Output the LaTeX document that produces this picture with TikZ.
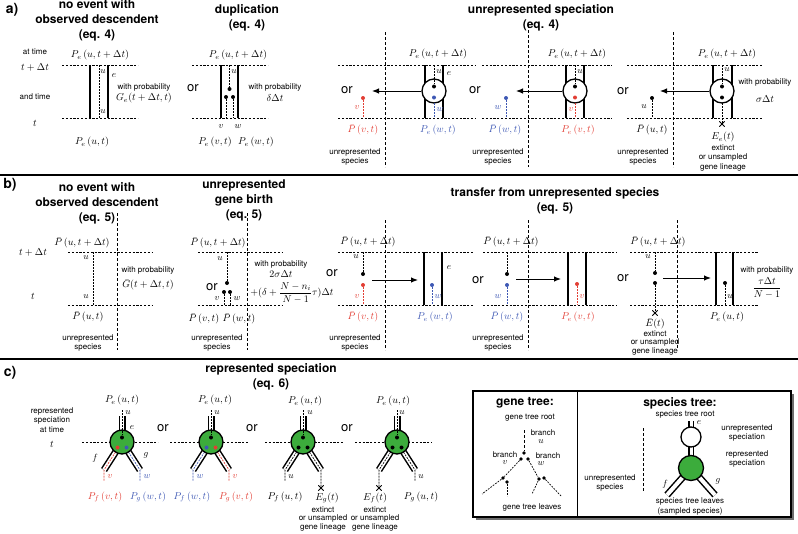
\documentclass[tikz,border=0pt]{standalone}
\usepackage{fontspec}
\usetikzlibrary{arrows.meta,shapes.misc}
\newfontfamily\hv{TeX Gyre Heros}
\definecolor{gred}{RGB}{226,62,52}
\definecolor{gblue}{RGB}{62,88,180}
\definecolor{ggreen}{RGB}{60,172,60}
\definecolor{shadowgray}{RGB}{110,110,110}
\begin{document}
\begin{tikzpicture}[x=1pt,y=-1pt,
  sp/.style={line width=2pt},
  gl/.style={line width=0.7pt,dash pattern=on 1.8pt off 1.2pt},
  tl/.style={line width=0.5pt,dash pattern=on 2.2pt off 1.6pt},
  vl/.style={line width=0.7pt,dash pattern=on 3pt off 2pt},
  gdot/.style={circle,fill,inner sep=0pt,minimum size=4pt},
  ttl/.style={font=\hv\bfseries\fontsize{12}{15}\selectfont,align=center,inner sep=0.5pt},
  pnl/.style={font=\hv\bfseries\fontsize{14}{16}\selectfont,inner sep=0.5pt},
  sm/.style={font=\hv\fontsize{8}{9.5}\selectfont,align=center,inner sep=0.5pt},
  ortx/.style={font=\hv\fontsize{13}{15}\selectfont,inner sep=0.5pt},
  mth/.style={font=\fontsize{10}{12}\selectfont,inner sep=0.5pt},
  lab/.style={font=\fontsize{9}{10}\selectfont,inner sep=0.3pt},
  arr/.style={line width=1pt,-{Latex[length=7pt,width=5.5pt]}},
  spc/.style={circle,draw,line width=1.3pt,fill=white,minimum size=24pt,inner sep=0pt},
  gsp/.style={circle,draw,line width=1.3pt,fill=ggreen,minimum size=24pt,inner sep=0pt},
  dbl/.style={double=white,double distance=4pt,line width=1.5pt},
  xmark/.style={cross out,draw,line width=0.8pt,minimum size=4.5pt,inner sep=0pt},
  sep/.style={line width=2.5pt},
]
\useasboundingbox (0,0) rectangle (798,533);

% =================== panel a ===================
\node[pnl] (la) at (12,10) {a)};
\node[ttl] (ta1) at (97,20.5) {no event with\\observed descendent\\(eq. 4)};
\node[sm] (at1) at (35,52) {at time};
\node[mth] (at2) at (35,67) {$t+\Delta t$};
\node[sm] (at3) at (35,97) {and time};
\node[mth] (at4) at (35,123) {$t$};
\node[mth] (a1top) at (100,55) {$P_e\,(u,t+\Delta t)$};
\draw[tl] (62,65) -- (138,65);
\draw[tl] (62,118) -- (138,118);
\draw[sp] (90,65) -- (90,118);
\draw[sp] (108,65) -- (108,118);
\draw[gl] (99,65) -- (99,118);
\node[lab] (a1u1) at (103,72) {$u$};
\node[lab] (a1u2) at (103,112) {$u$};
\node[lab] (a1e) at (114,76) {$e$};
\node[sm] (a1wp) at (144,87) {with probability};
\node[mth] (a1G) at (144,98) {$G_e(t+\Delta t,t)$};
\node[mth] (a1bot) at (92,142) {$P_e\,(u,t)$};

% duplication
\node[ttl] (ta2) at (247,17.5) {duplication\\(eq. 4)};
\node[ortx] (aor1) at (193,88) {or};
\node[mth] (a2top) at (238,55) {$P_e\,(u,t+\Delta t)$};
\draw[tl] (192,65) -- (268,65);
\draw[tl] (192,118) -- (268,118);
\draw[sp] (221,65) -- (221,118);
\draw[sp] (238,65) -- (238,118);
\node[gdot] (dA) at (229.5,89) {};
\node[gdot] (dB) at (226,97) {};
\node[gdot] (dC) at (233,97) {};
\coordinate (dAt) at (229.5,65);
\coordinate (dBb) at (226,118);
\coordinate (dCb) at (233,118);
\draw[gl] (dAt) -- (dA);
\draw[gl] (dB) -- (dBb);
\draw[gl] (dC) -- (dCb);
\node[lab] (a2u) at (234,72) {$u$};
\node[lab] (a2v) at (221,127) {$v$};
\node[lab] (a2w) at (238,127) {$w$};
\node[sm] (a2wp) at (275,87) {with probability};
\node[mth] (a2d) at (275,98) {$\delta\Delta t$};
\node[mth] (a2b1) at (215,142) {$P_e\,(v,t)$};
\node[mth] (a2b2) at (256,142) {$P_e\,(w,t)$};

% unrepresented speciation
\node[ttl] (ta3) at (541,17.5) {unrepresented speciation\\(eq. 4)};
% sub 1
\node[ortx] (aor2) at (347,90) {or};
\draw[vl] (385,32) -- (385,167);
\draw[tl] (338,65) -- (475,65);
\draw[tl] (338,118) -- (475,118);
\node[mth] (s1top) at (438,54) {$P_e\,(u,t+\Delta t)$};
\draw[sp] (425,65) -- (425,118);
\draw[sp] (443,65) -- (443,118);
\node[spc] (c1) at (434,91) {};
\node[gdot] (c1a) at (434,86.5) {};
\node[gdot,gblue] (c1b) at (434,97.5) {};
\draw[gl] (434,65) -- (c1a);
\draw[gl,gblue] (434,103) -- (434,118);
\node[lab] (s1u) at (439,72) {$u$};
\node[lab] (s1e) at (449,74) {$e$};
\node[lab,gblue] (s1w) at (440,110) {$w$};
\node[mth,gblue] (s1b) at (438,130) {$P_e\,(w,t)$};
\coordinate (a1tip) at (372,91);
\draw[arr] (c1) -- (a1tip);
\node[gdot,gred] (r1) at (363,98) {};
\coordinate (r1b) at (363,118);
\draw[gl,gred] (r1) -- (r1b);
\node[lab,gred] (r1v) at (357,108) {$v$};
\node[mth,gred] (r1P) at (363,130) {$\bar P\,(v,t)$};
\node[sm] (r1s) at (355,157) {unrepresented\\species};
% sub 2
\node[ortx] (aor3) at (475,90) {or};
\draw[vl] (528,25) -- (528,167);
\draw[tl] (482,65) -- (612,65);
\draw[tl] (482,118) -- (612,118);
\node[mth] (s2top) at (577,54) {$P_e\,(u,t+\Delta t)$};
\draw[sp] (566,65) -- (566,118);
\draw[sp] (584,65) -- (584,118);
\node[spc] (c2) at (575,91) {};
\node[gdot] (c2a) at (575,86.5) {};
\node[gdot,gred] (c2b) at (575,97.5) {};
\draw[gl] (575,65) -- (c2a);
\draw[gl,gred] (575,103) -- (575,118);
\node[lab] (s2u) at (580,72) {$u$};
\node[lab,gred] (s2v) at (571,110) {$v$};
\node[mth,gred] (s2b) at (578,130) {$P_e\,(v,t)$};
\coordinate (a2tip) at (516,91);
\draw[arr] (c2) -- (a2tip);
\node[gdot,gblue] (b2) at (506,98) {};
\coordinate (b2b) at (506,118);
\draw[gl,gblue] (b2) -- (b2b);
\node[lab,gblue] (b2w) at (498,108) {$w$};
\node[mth,gblue] (b2P) at (505,130) {$\bar P\,(w,t)$};
\node[sm] (b2s) at (498,157) {unrepresented\\species};
% sub 3
\node[ortx] (aor4) at (623,91) {or};
\draw[vl] (673,32) -- (673,167);
\draw[tl] (627,65) -- (762,65);
\draw[tl] (627,118) -- (762,118);
\node[mth] (s3top) at (727,54) {$P_e\,(u,t+\Delta t)$};
\draw[sp] (713,65) -- (713,118);
\draw[sp] (732,65) -- (732,118);
\draw[gl] (722,103) -- (722,124);
\node[spc] (c3) at (722,91) {};
\node[gdot] (c3a) at (722,86.5) {};
\node[gdot] (c3b) at (722,97.5) {};
\draw[gl] (722,65) -- (c3a);
\node[xmark] (x1) at (722,124) {};
\node[lab] (s3u) at (727,70) {$u$};
\node[sm] (s3wp) at (765,82) {with probability};
\node[mth] (s3sg) at (765,99) {$\sigma\Delta t$};
\node[mth] (s3E) at (723,137) {$E_e(t)$};
\node[sm] (s3x) at (723,158) {extinct\\or unsampled\\gene lineage};
\coordinate (a3tip) at (660,91);
\draw[arr] (c3) -- (a3tip);
\node[gdot] (k3) at (652,98) {};
\coordinate (k3b) at (652,118);
\draw[gl] (k3) -- (k3b);
\node[lab] (k3u) at (644,107) {$u$};
\node[mth] (k3P) at (652,130) {$\bar P\,(u,t)$};
\node[sm] (k3s) at (643,157) {unrepresented\\species};

% separators
\draw[sep] (0,175) -- (798,175);
\draw[sep] (0,359) -- (798,359);

% =================== panel b ===================
\node[pnl] (lb) at (10,185) {b)};
\node[ttl] (tb1) at (97,203.5) {no event with\\observed descendent\\(eq. 5)};
\node[mth] (bt1) at (33,252) {$t+\Delta t$};
\node[mth] (bt2) at (33,296) {$t$};
\node[mth] (b1top) at (82,243) {$\bar P\,(u,t+\Delta t)$};
\draw[tl] (68,252) -- (152,252);
\draw[tl] (68,305) -- (152,305);
\draw[gl] (93,252) -- (93,305);
\draw[vl] (117,213) -- (117,350);
\node[lab] (b1u1) at (86,258) {$u$};
\node[lab] (b1u2) at (86,297) {$u$};
\node[sm] (b1wp) at (148,270) {with probability};
\node[mth] (b1G) at (148,285) {$\bar G(t+\Delta t,t)$};
\node[mth] (b1bot) at (88,317) {$\bar P\,(u,t)$};
\node[sm] (b1s) at (88,343) {unrepresented\\species};

% gene birth
\node[ttl] (tb2) at (244,200.5) {unrepresented\\gene birth\\(eq. 5)};
\node[ortx] (bor1) at (212,287) {or};
\node[mth] (b2top) at (218,243) {$\bar P\,(u,t+\Delta t)$};
\draw[tl] (198,252) -- (282,252);
\draw[tl] (198,305) -- (282,305);
\draw[vl] (247,213) -- (247,350);
\node[gdot] (gb1) at (227,283) {};
\node[gdot] (gb2) at (224,292) {};
\node[gdot] (gb3) at (230,292) {};
\coordinate (gb1t) at (227,252);
\coordinate (gb2b) at (224,305);
\coordinate (gb3b) at (230,305);
\draw[gl] (gb1t) -- (gb1);
\draw[gl] (gb2) -- (gb2b);
\draw[gl] (gb3) -- (gb3b);
\node[lab] (gbu) at (220,259) {$u$};
\node[lab] (gbv) at (217,299) {$v$};
\node[lab] (gbw) at (237,299) {$w$};
\node[sm] (gbwp) at (281,264) {with probability};
\node[mth] (gbs) at (281,274) {$2\sigma\Delta t$};
\node[mth] (gbf) at (292,293) {$\displaystyle +(\delta+\frac{N-n_i}{N-1}\tau)\Delta t$};
\node[mth] (gbP1) at (204,319) {$\bar P\,(v,t)$};
\node[mth] (gbP2) at (239,319) {$\bar P\,(w,t)$};
\node[sm] (gbs2) at (217,343) {unrepresented\\species};

% transfer
\node[ttl] (tb3) at (555,200.5) {transfer from unrepresented species\\(eq. 5)};
% sub 1
\node[ortx] (bor2) at (332,273) {or};
\node[mth] (t1top) at (368,242) {$\bar P\,(u,t+\Delta t)$};
\draw[tl] (338,252) -- (473,252);
\draw[tl] (338,305) -- (473,305);
\draw[vl] (385,220) -- (385,350);
\node[gdot] (t1a) at (363,274) {};
\node[gdot,gred] (t1b) at (363,285) {};
\coordinate (t1at) at (363,252);
\coordinate (t1bb) at (363,305);
\draw[gl] (t1at) -- (t1a);
\draw[gl,gred] (t1b) -- (t1bb);
\node[lab] (t1u) at (356,257) {$u$};
\node[lab,gred] (t1v) at (357,297) {$v$};
\coordinate (t1s) at (372,280);
\coordinate (t1e) at (418,280);
\draw[arr] (t1s) -- (t1e);
\draw[sp] (424,252) -- (424,305);
\draw[sp] (442,252) -- (442,305);
\node[lab] (t1ee) at (449,268) {$e$};
\node[gdot,gblue] (t1c) at (432,285) {};
\coordinate (t1cb) at (432,305);
\draw[gl,gblue] (t1c) -- (t1cb);
\node[lab,gblue] (t1w) at (438,297) {$w$};
\node[mth,gred] (t1P1) at (363,317) {$\bar P\,(v,t)$};
\node[mth,gblue] (t1P2) at (435,317) {$P_e\,(w,t)$};
\node[sm] (t1sp) at (355,343) {unrepresented\\species};
% sub 2
\node[ortx] (bor3) at (478,280) {or};
\node[mth] (t2top) at (511,242) {$\bar P\,(u,t+\Delta t)$};
\draw[tl] (483,252) -- (617,252);
\draw[tl] (483,305) -- (617,305);
\draw[vl] (528,220) -- (528,350);
\node[gdot] (t2a) at (507,274) {};
\node[gdot,gblue] (t2b) at (507,285) {};
\coordinate (t2at) at (507,252);
\coordinate (t2bb) at (507,305);
\draw[gl] (t2at) -- (t2a);
\draw[gl,gblue] (t2b) -- (t2bb);
\node[lab,gblue] (t2w) at (498,297) {$w$};
\coordinate (t2s) at (516,279);
\coordinate (t2e) at (561,279);
\draw[arr] (t2s) -- (t2e);
\draw[sp] (568,252) -- (568,305);
\draw[sp] (586,252) -- (586,305);
\node[gdot,gred] (t2c) at (577,284) {};
\coordinate (t2cb) at (577,305);
\draw[gl,gred] (t2c) -- (t2cb);
\node[lab,gred] (t2v) at (582,297) {$v$};
\node[mth,gblue] (t2P1) at (507,317) {$\bar P\,(w,t)$};
\node[mth,gred] (t2P2) at (578,317) {$P_e\,(v,t)$};
\node[sm] (t2sp) at (498,343) {unrepresented\\species};
% sub 3
\node[ortx] (bor4) at (623,278) {or};
\node[mth] (t3top) at (658,242) {$\bar P\,(u,t+\Delta t)$};
\draw[tl] (630,252) -- (758,252);
\draw[tl] (630,305) -- (758,305);
\draw[vl] (677,220) -- (677,350);
\node[gdot] (t3a) at (655,273) {};
\node[gdot] (t3b) at (655,283) {};
\coordinate (t3at) at (655,252);
\node[xmark] (x2) at (655,313) {};
\draw[gl] (t3at) -- (t3a);
\draw[gl] (t3b) -- (x2.center);
\node[lab] (t3u) at (648,257) {$u$};
\coordinate (t3s) at (663,278);
\coordinate (t3e) at (711,278);
\draw[arr] (t3s) -- (t3e);
\draw[sp] (716,252) -- (716,305);
\draw[sp] (733,252) -- (733,305);
\node[gdot] (t3c) at (725,283) {};
\coordinate (t3cb) at (725,305);
\draw[gl] (t3c) -- (t3cb);
\node[lab] (t3uu) at (730,297) {$u$};
\node[sm] (t3wp) at (767,270) {with probability};
\node[mth] (t3fr) at (767,288) {$\displaystyle\frac{\tau\Delta t}{N-1}$};
\node[mth] (t3P) at (727,317) {$P_e\,(u,t)$};
\node[mth] (t3E) at (655,324) {$\bar E(t)$};
\node[sm,font=\hv\fontsize{8}{8.8}\selectfont] (t3x) at (655,343) {extinct\\or unsampled\\gene lineage};

% =================== panel c ===================
\node[pnl] (lc) at (10,373) {c)};
\node[ttl] (tc) at (271,376.5) {represented speciation\\(eq. 6)};
\node[sm] (ct1) at (52,420) {represented\\speciation\\at time};
\node[mth] (ct2) at (52,444) {$t$};

% sub 1
\draw[tl] (82,442) -- (158,442);
\draw[dbl] (122,416) -- (122,442);
\draw[dbl] (122,442) -- (104,470);
\draw[dbl] (122,442) -- (140,470);
\draw[gl,gred] (122,442) -- (104,470) -- (104,481);
\draw[gl,gblue] (122,442) -- (140,470) -- (140,481);
\node[gsp] (g1) at (122,442) {};
\node[gdot] (g1a) at (122,437.5) {};
\node[gdot,gred] (g1b) at (117.5,447.5) {};
\node[gdot,gblue] (g1c) at (126.5,447.5) {};
\coordinate (g1t) at (122,410);
\draw[gl] (g1t) -- (g1a);
\node[mth] (c1top) at (122,400) {$P_e\,(u,t)$};
\node[lab] (c1u) at (128,413) {$u$};
\node[lab] (c1e) at (132,428) {$e$};
\node[lab] (c1f) at (95,458) {$f$};
\node[lab] (c1g) at (146,455) {$g$};
\node[lab,gred] (c1v) at (110,477) {$v$};
\node[lab,gblue] (c1w) at (147,477) {$w$};
\node[mth,gred] (c1P1) at (105,497) {$P_f\,(v,t)$};
\node[mth,gblue] (c1P2) at (148,497) {$P_g\,(w,t)$};
\node[ortx] (cor1) at (163,428) {or};

% sub 2
\draw[tl] (170,442) -- (248,442);
\draw[dbl] (211,416) -- (211,442);
\draw[dbl] (211,442) -- (193,470);
\draw[dbl] (211,442) -- (229,470);
\draw[gl,gblue] (211,442) -- (193,470) -- (193,481);
\draw[gl,gred] (211,442) -- (229,470) -- (229,481);
\node[gsp] (g2) at (211,442) {};
\node[gdot] (g2a) at (211,437.5) {};
\node[gdot,gblue] (g2b) at (206.5,447.5) {};
\node[gdot,gred] (g2c) at (215.5,447.5) {};
\coordinate (g2t) at (211,410);
\draw[gl] (g2t) -- (g2a);
\node[mth] (c2top) at (215,400) {$P_e\,(u,t)$};
\node[lab] (c2u) at (217,413) {$u$};
\node[lab,gblue] (c2w) at (200,477) {$w$};
\node[lab,gred] (c2v) at (235,477) {$v$};
\node[mth,gblue] (c2P1) at (192,497) {$P_f\,(w,t)$};
\node[mth,gred] (c2P2) at (236,497) {$P_g\,(v,t)$};
\node[ortx] (cor2) at (252,428) {or};

% sub 3
\draw[tl] (265,442) -- (343,442);
\draw[dbl] (303,416) -- (303,442);
\draw[dbl] (303,442) -- (285,470);
\draw[dbl] (303,442) -- (321,470);
\draw[gl] (303,442) -- (285,470) -- (285,481);
\draw[gl] (303,442) -- (321,470) -- (321,488);
\node[xmark] (x3) at (321,488) {};
\node[gsp] (g3) at (303,442) {};
\node[gdot] (g3a) at (303,437.5) {};
\node[gdot] (g3b) at (298.5,447.5) {};
\node[gdot] (g3c) at (307.5,447.5) {};
\coordinate (g3t) at (303,410);
\draw[gl] (g3t) -- (g3a);
\node[mth] (c3top) at (305,401) {$P_e\,(u,t)$};
\node[lab] (c3u) at (310,413) {$u$};
\node[lab] (c3u2) at (291,477) {$u$};
\node[mth] (c3P) at (285,497) {$P_f\,(u,t)$};
\node[mth] (c3E) at (327,498) {$E_g(t)$};
\node[sm,font=\hv\fontsize{8}{8.2}\selectfont] (c3x) at (323,519) {extinct\\or unsampled\\gene lineage};
\node[ortx] (cor3) at (347,428) {or};

% sub 4
\draw[tl] (355,442) -- (432,442);
\draw[dbl] (397,416) -- (397,442);
\draw[dbl] (397,442) -- (379,470);
\draw[dbl] (397,442) -- (415,470);
\draw[gl] (397,442) -- (379,470) -- (379,488);
\draw[gl] (397,442) -- (415,470) -- (415,481);
\node[xmark] (x4) at (379,488) {};
\node[gsp] (g4) at (397,442) {};
\node[gdot] (g4a) at (397,437.5) {};
\node[gdot] (g4b) at (392.5,447.5) {};
\node[gdot] (g4c) at (401.5,447.5) {};
\coordinate (g4t) at (397,410);
\draw[gl] (g4t) -- (g4a);
\node[mth] (c4top) at (393,401) {$P_e\,(u,t)$};
\node[lab] (c4u) at (402,413) {$u$};
\node[lab] (c4u2) at (421,477) {$u$};
\node[mth] (c4E) at (375,498) {$E_f(t)$};
\node[mth] (c4P) at (421,497) {$P_g\,(u,t)$};
\node[sm,font=\hv\fontsize{8}{8.2}\selectfont] (c4x) at (375,519) {extinct\\or unsampled\\gene lineage};

% =================== legend box ===================
\fill[shadowgray] (476,394) rectangle (794,520);
\draw[fill=white,line width=1.5pt] (473,391) rectangle (791,517);
\draw[line width=1pt] (577,391) -- (577,517);

% gene tree
\node[ttl] (gt) at (525,403) {gene tree:};
\node[sm] (gtr) at (530,418) {gene tree root};
\coordinate (gtop) at (524,430);
\node[gdot,minimum size=3.6pt] (gr) at (524,453) {};
\node[gdot,minimum size=3.6pt] (grl) at (521,459) {};
\node[gdot,minimum size=3.6pt] (grr) at (528,459) {};
\node[gdot,minimum size=3.6pt] (gv1) at (503,478) {};
\node[gdot,minimum size=3.6pt] (gv2) at (507,482) {};
\node[gdot,minimum size=3.6pt] (gw1) at (539,479) {};
\node[gdot,minimum size=3.6pt] (gw2) at (544,478) {};
\coordinate (gl1) at (482,494);
\coordinate (gl2) at (507,496);
\coordinate (gl3) at (532,494);
\coordinate (gl4) at (561,496);
\draw[vl] (gtop) -- (gr);
\draw[gl] (grl) -- (gv1);
\draw[gl] (grr) -- (gw1);
\draw[gl] (gv1) -- (gl1);
\draw[gl] (gv2) -- (gl2);
\draw[gl] (gw1) -- (gl3);
\draw[gl] (gw2) -- (gl4);
\node[sm] (gbu1) at (543,433) {branch};
\node[lab] (gbu2) at (541,442) {$u$};
\node[sm] (gbv1) at (505,455) {branch};
\node[lab] (gbv2) at (505,463) {$v$};
\node[sm] (gbw1) at (548,456) {branch};
\node[lab] (gbw2) at (541,464) {$w$};
\node[sm] (gtl) at (532,507) {gene tree leaves};

% species tree
\node[ttl] (st) at (680,403) {species tree:};
\node[sm] (str) at (685,415) {species tree root};
\draw[dbl,double distance=3pt,line width=1.3pt] (691,421) -- (691,437);
\draw[dbl,double distance=3pt,line width=1.3pt] (691,437) -- (691,468);
\draw[dbl] (691,468) -- (667,495);
\draw[dbl] (691,468) -- (715,495);
\node[spc,minimum size=20pt] (wc) at (691,437) {};
\node[gsp,minimum size=25pt] (gc) at (691,468) {};
\node[lab] (ste) at (699,423) {$e$};
\node[lab] (stf) at (665,484) {$f$};
\node[lab] (stg) at (718,481) {$g$};
\node[sm] (stu) at (747,433) {unrepresented\\speciation};
\node[sm] (strp) at (747,459) {represented\\speciation};
\draw[vl] (643,428) -- (643,492);
\node[sm] (sts) at (610,483) {unrepresented\\species};
\node[sm] (stl) at (690,506.5) {species tree leaves\\(sampled species)};

\end{tikzpicture}
\end{document}
